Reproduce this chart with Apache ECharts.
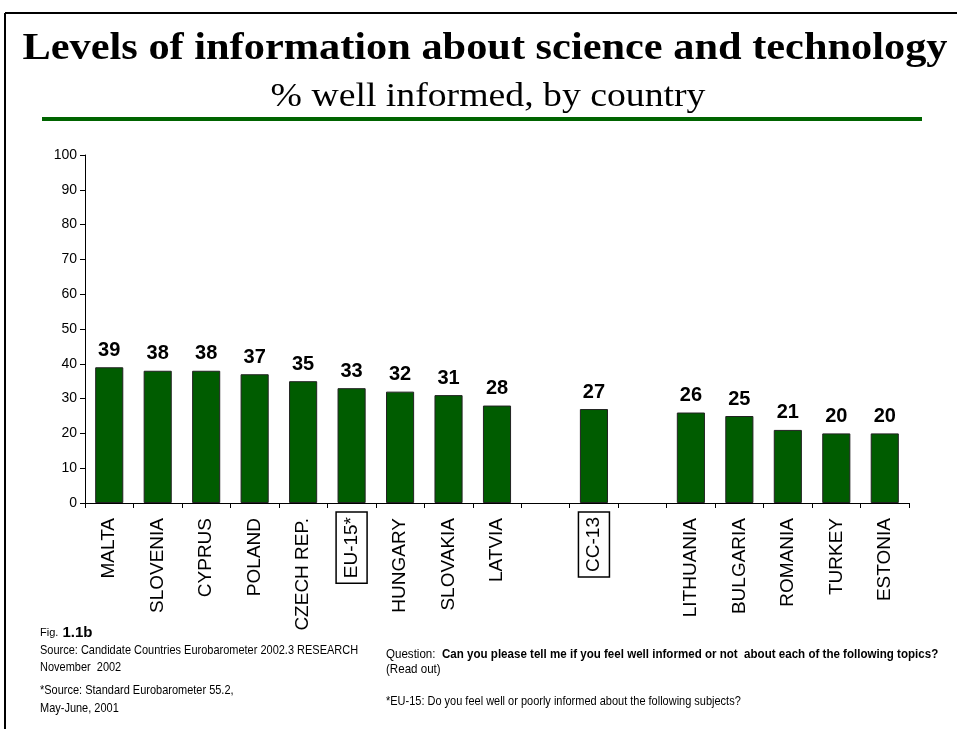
<!DOCTYPE html>
<html>
<head>
<meta charset="utf-8">
<script src="https://cdn.jsdelivr.net/npm/echarts@6/dist/echarts.min.js"></script>
<style>
  html, body { margin: 0; padding: 0; background: #fff; }
  #chart { width: 957px; height: 729px; }
</style>
</head>
<body>
<div id="chart"></div>
<script>
// Countries in display order; empty strings leave gaps around the CC-13 average
const categories = ['MALTA', 'SLOVENIA', 'CYPRUS', 'POLAND', 'CZECH REP.', 'EU-15*', 'HUNGARY',
  'SLOVAKIA', 'LATVIA', '', 'CC-13', '', 'LITHUANIA', 'BULGARIA', 'ROMANIA', 'TURKEY', 'ESTONIA'];
// % well informed about science and technology
const wellInformed = [39, 38, 38, 37, 35, 33, 32, 31, 28, null, 27, null, 26, 25, 21, 20, 20];
// Averages shown with a framed label
const boxedCategories = ['EU-15*', 'CC-13'];
// Value axis range
const yMin = 0, yMax = 100, yStep = 10;

const titleText = 'Levels of information about science and technology';
const subtitleText = '% well informed, by country';

const sans = '"Liberation Sans", Arial, sans-serif';
const serif = '"Liberation Serif", "Times New Roman", serif';

const chart = echarts.init(document.getElementById('chart'), null, { renderer: 'canvas' });

chart.setOption({
  animation: false,
  backgroundColor: '#fff',
  grid: { left: 85, right: 48, top: 155, bottom: 226, containLabel: false },
  xAxis: {
    type: 'category',
    data: categories,
    boundaryGap: true,
    axisLine: { lineStyle: { color: '#000', width: 1 } },
    axisTick: { show: true, length: 5, lineStyle: { color: '#000' } },
    axisLabel: {
      interval: 0,
      rotate: 90,
      margin: 9,
      color: '#000',
      fontFamily: sans,
      fontSize: 19,
      formatter: function (v) {
        if (!v) return '';
        return boxedCategories.indexOf(v) >= 0 ? '{box|' + v + '}' : '{plain|' + v + '}';
      },
      rich: {
        plain: { fontFamily: sans, fontSize: 19, color: '#000', padding: [0, 6, 0, 6] },
        box: {
          fontFamily: sans, fontSize: 19, color: '#000',
          borderColor: '#000', borderWidth: 1.5, padding: [6, 5, 6, 5]
        }
      }
    }
  },
  yAxis: {
    type: 'value',
    min: yMin,
    max: yMax,
    interval: yStep,
    splitLine: { show: false },
    axisLine: { show: true, lineStyle: { color: '#000', width: 1 } },
    axisTick: { show: true, length: 5, lineStyle: { color: '#000' } },
    axisLabel: { color: '#000', fontFamily: sans, fontSize: 14, margin: 8 }
  },
  series: [{
    type: 'bar',
    data: wellInformed,
    barWidth: '58%',
    itemStyle: { color: '#005c00', borderColor: '#222', borderWidth: 1 },
    label: {
      show: true,
      position: 'top',
      distance: 7,
      color: '#000',
      fontFamily: sans,
      fontWeight: 'bold',
      fontSize: 20
    }
  }],
  graphic: [
    // page frame
    { type: 'line', shape: { x1: 5, y1: 13, x2: 957, y2: 13 }, style: { stroke: '#000', lineWidth: 2 } },
    { type: 'line', shape: { x1: 5, y1: 13, x2: 5, y2: 729 }, style: { stroke: '#000', lineWidth: 2 } },
    // headings (slightly widened serif)
    {
      type: 'text', x: 485, y: 30, scaleX: 1.115,
      style: {
        text: titleText, align: 'center', verticalAlign: 'top',
        fontFamily: serif, fontWeight: 'bold', fontSize: 38, fill: '#000'
      }
    },
    {
      type: 'text', x: 488, y: 80, scaleX: 1.11,
      style: {
        text: subtitleText, align: 'center', verticalAlign: 'top',
        fontFamily: serif, fontSize: 34, fill: '#000'
      }
    },
    // green rule under the headings
    { type: 'rect', shape: { x: 42, y: 117, width: 880, height: 4 }, style: { fill: '#006400' } },
    // figure number and sources (condensed sans)
    {
      type: 'text', x: 40, y: 625,
      style: {
        text: '{a|Fig.}{b| 1.1b}', verticalAlign: 'top',
        rich: {
          a: { fontFamily: sans, fontSize: 11, fill: '#000' },
          b: { fontFamily: sans, fontSize: 15, fontWeight: 'bold', fill: '#000' }
        }
      }
    },
    {
      type: 'text', x: 40, y: 642, scaleX: 0.845,
      style: {
        text: 'Source: Candidate Countries Eurobarometer 2002.3 RESEARCH\nNovember  2002',
        verticalAlign: 'top', fontFamily: sans, fontSize: 13, lineHeight: 17, fill: '#000'
      }
    },
    {
      type: 'text', x: 40, y: 681, scaleX: 0.845,
      style: {
        text: '*Source: Standard Eurobarometer 55.2,\nMay-June, 2001',
        verticalAlign: 'top', fontFamily: sans, fontSize: 13, lineHeight: 18, fill: '#000'
      }
    },
    {
      type: 'text', x: 386, y: 647, scaleX: 0.89,
      style: {
        text: '{r|Question:  }{b|Can you please tell me if you feel well informed or not  about each of the following topics?}\n{r|(Read out)}',
        verticalAlign: 'top',
        rich: {
          r: { fontFamily: sans, fontSize: 13, lineHeight: 15, fill: '#000' },
          b: { fontFamily: sans, fontSize: 13, lineHeight: 15, fontWeight: 'bold', fill: '#000' }
        }
      }
    },
    {
      type: 'text', x: 386, y: 695, scaleX: 0.845,
      style: {
        text: '*EU-15: Do you feel well or poorly informed about the following subjects?',
        verticalAlign: 'top', fontFamily: sans, fontSize: 13, fill: '#000'
      }
    }
  ]
});
</script>
</body>
</html>
